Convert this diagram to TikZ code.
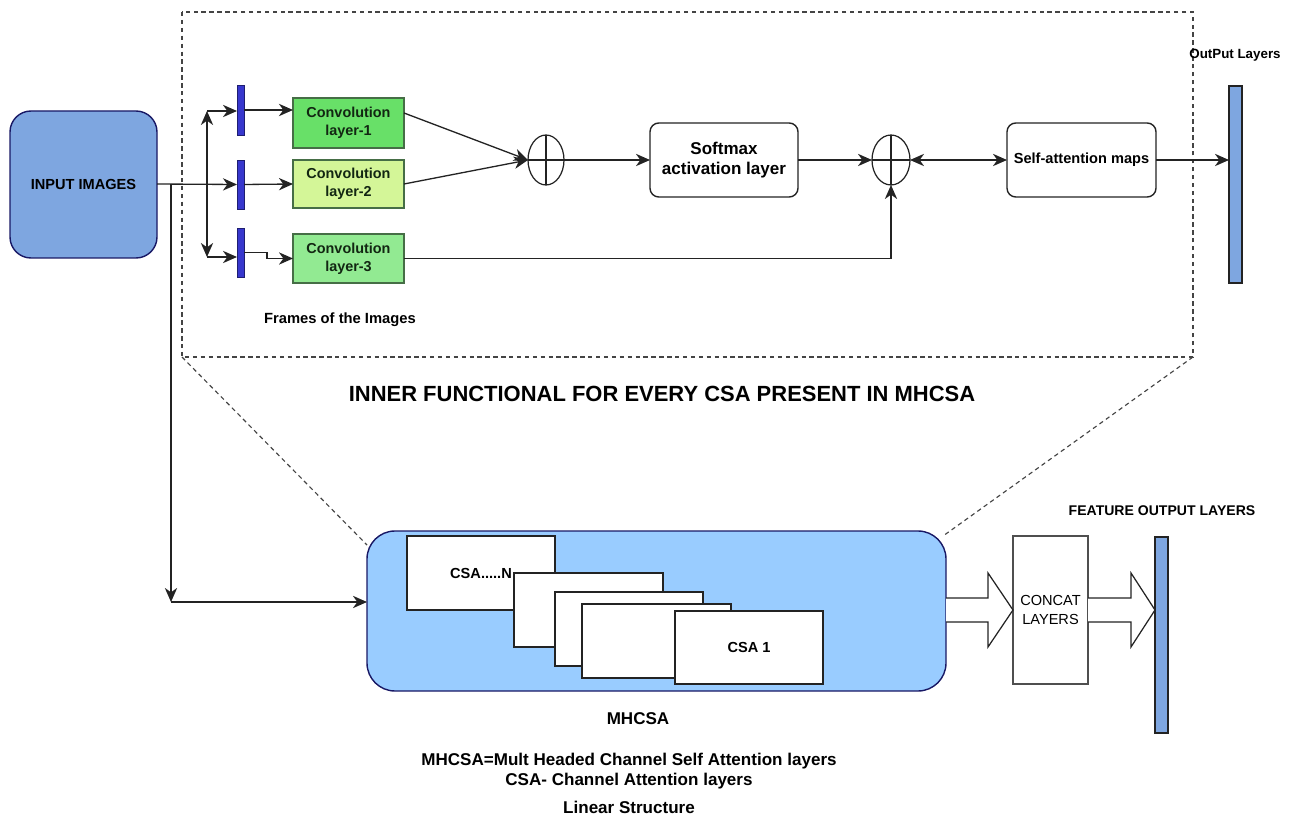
\documentclass[tikz,border=0pt]{standalone}
\usepackage{fontspec}
\setmainfont{Liberation Sans}
\usetikzlibrary{arrows.meta,shapes.geometric,calc}

\definecolor{inblue}{RGB}{126,166,224}
\definecolor{mhblue}{RGB}{153,204,255}
\definecolor{barblue}{RGB}{55,55,205}
\definecolor{convA}{RGB}{104,224,104}
\definecolor{convB}{RGB}{212,246,152}
\definecolor{convC}{RGB}{146,234,146}
\definecolor{convtext}{RGB}{18,38,18}
\definecolor{convedge}{RGB}{70,110,70}
\definecolor{edge}{RGB}{35,35,35}

% box given by its corners (x1,y1)-(x2,y2) in picture units
\newcommand{\cornerbox}[7]{%
  \node[#2, minimum width={(#5-#3)*0.02cm}, minimum height={(#6-#4)*0.02cm}]
    (#1) at ({(#3+#5)/2},{(#4+#6)/2}) {#7};}

\tikzset{
  base/.style={inner sep=0pt, outer sep=0pt},
  conv/.style={base, draw=convedge, line width=0.6pt, align=center,
    text=convtext, font=\bfseries\fontsize{8.2}{10.4}\selectfont},
  framebar/.style={base, fill=barblue, draw=barblue!55!black, line width=0.5pt},
  outbar/.style={base, fill=inblue, draw=edge, line width=0.6pt},
  roundbox/.style={base, draw=edge, line width=0.8pt, rounded corners=5pt,
    fill=white, align=center},
  csabox/.style={base, draw=edge, line width=0.8pt, fill=white},
  sumnode/.style={base, ellipse, draw=edge, line width=0.7pt,
    minimum width=0.72cm, minimum height=1cm},
  tip/.tip={Stealth[length=8pt,width=7pt,inset=2.5pt]},
  arr/.style={-tip, line width=0.75pt, draw=edge},
  dbl/.style={tip-tip, line width=0.75pt, draw=edge},
  zoomline/.style={draw=edge!85, line width=0.65pt, dash pattern=on 2.5pt off 2pt},
  blockarrow/.style={draw=edge, line width=0.7pt, fill=white, line join=miter},
  lbl/.style={base, font=\bfseries\fontsize{8.4}{10}\selectfont}
}

\begin{document}
\begin{tikzpicture}[x=0.02cm, y=-0.02cm]
\useasboundingbox (0,0) rectangle (1302,817);

% ---------- inner functional frame ----------
\draw[zoomline] (182,12) rectangle (1193,357);
\coordinate (fbl) at (182,357);
\coordinate (fbr) at (1193,357);

% input block
\cornerbox{in}{base, draw=edge!70!blue, line width=0.8pt, fill=inblue,
  rounded corners=0.42cm, font=\bfseries\fontsize{8.3}{10}\selectfont}
  {10}{111}{157}{258}{INPUT IMAGES}

% frame bars
\cornerbox{b1}{framebar}{237}{85}{244}{135}{}
\cornerbox{b2}{framebar}{237}{160}{244}{209}{}
\cornerbox{b3}{framebar}{237}{228}{244}{277}{}

% convolution layers
\cornerbox{c1}{conv, fill=convA}{293}{98}{404}{148}{Convolution\\layer-1}
\cornerbox{c2}{conv, fill=convB}{293}{160}{404}{208}{Convolution\\layer-2}
\cornerbox{c3}{conv, fill=convC}{293}{234}{404}{283}{Convolution\\layer-3}

\node[lbl] (frames) at (340,320) {Frames of the Images};

% summation nodes
\node[sumnode] (o1) at (546,160) {};
\draw[line width=0.7pt, draw=edge] (o1.north) -- (o1.south) (o1.west) -- (o1.east);
\node[sumnode, minimum width=0.76cm] (o2) at (891,160) {};
\draw[line width=0.7pt, draw=edge] (o2.north) -- (o2.south) (o2.west) -- (o2.east);

% softmax and attention maps
\cornerbox{sm}{roundbox, font=\bfseries\fontsize{9.7}{11.4}\selectfont}
  {650}{123}{798}{197}{Softmax\\activation layer}
\cornerbox{sa}{roundbox, font=\bfseries\fontsize{8.3}{10}\selectfont}
  {1007}{123}{1156}{197}{Self-attention maps}

% output layer bar
\cornerbox{ob}{outbar}{1229}{86}{1242}{283}{}
\node[base, font=\bfseries\fontsize{7.6}{9}\selectfont] (oblbl) at (1235,55) {OutPut Layers};

% ---------- connectors of the inner frame ----------
\coordinate (split) at (171,184);
\coordinate (br1) at (207,111);
\coordinate (br3) at (207,257);
\coordinate (down) at (171,602);

\draw[arr] (in.east |- split) -- (b2.west);
\draw[dbl] (br1) -- (br3);
\draw[arr] (br1) -- (br1 -| b1.west);
\draw[arr] (br3) -- (br3 -| b3.west);

\draw[arr, line width=1.1pt] (b1.east) -- (b1.east -| c1.west);
\draw[arr] (b2.east) -- (c2.west);
\draw[arr] (b3.east) -- ++(23,0) |- (c3.west);

\draw[arr] ([yshift=0.2cm]c1.east) -- (o1.west);
\draw[arr] (c2.east) -- (o1.west);
\draw[arr] (o1.east) -- (sm.west);
\draw[arr] (sm.east) -- (o2.west);
\draw[arr] (c3.east) -| (o2.south);
\draw[dbl] (o2.east) -- (sa.west);
\draw[arr] (sa.east) -- (sa.east -| ob.west);

\node[base, font=\bfseries\fontsize{12.5}{14}\selectfont] (title) at (662,394)
  {INNER FUNCTIONAL FOR EVERY CSA PRESENT IN MHCSA};

% ---------- multi headed channel self attention ----------
\cornerbox{mh}{base, draw=edge!70!blue, line width=0.8pt, fill=mhblue,
  rounded corners=0.56cm}{367}{531}{946}{691}{}

\cornerbox{csaN}{csabox}{407}{536}{555}{610}{}
\node[base, font=\bfseries\fontsize{8.3}{10}\selectfont] (csaNlbl) at (481,573) {CSA.....N};
\cornerbox{csa4}{csabox}{514}{573}{663}{647}{}
\cornerbox{csa3}{csabox}{555}{592}{703}{666}{}
\cornerbox{csa2}{csabox}{582}{604}{731}{678}{}
\cornerbox{csa1}{csabox, font=\bfseries\fontsize{8.3}{10}\selectfont}
  {675}{611}{823}{684}{CSA 1}

% zoom lines from the frame to the block
\draw[zoomline] (fbl) -- (367,545);
\draw[zoomline] (fbr) -- (943,536);

% input routed down to the block
\draw[arr] (split) -- (down);
\draw[arr, line width=0.9pt] (down) -- (down -| mh.west);

% concat and feature output
\cornerbox{cc}{base, draw=edge!80, line width=0.7pt, fill=white, align=center,
  font=\fontsize{8.3}{10.4}\selectfont}{1013}{536}{1088}{684}{CONCAT\\LAYERS}
\cornerbox{fb}{outbar}{1155}{537}{1168}{733}{}
\node[base, font=\bfseries\fontsize{8}{10}\selectfont] (fblbl) at (1162,511)
  {FEATURE OUTPUT LAYERS};

\draw[blockarrow] (mh.east |- 0,598) -- (988,598) -- (988,573) -- (cc.west)
  -- (988,647) -- (988,622) -- (mh.east |- 0,622);
\draw[blockarrow] (cc.east |- 0,598) -- (1131,598) -- (1131,573) -- (fb.west |- cc.west)
  -- (1131,647) -- (1131,622) -- (cc.east |- 0,622);

% captions
\node[base, font=\bfseries\fontsize{9.7}{11}\selectfont] (mhlbl) at (638,719) {MHCSA};
\node[base, font=\bfseries\fontsize{9.7}{11}\selectfont] (def1) at (629,761)
  {MHCSA=Mult Headed Channel Self Attention layers};
\node[base, font=\bfseries\fontsize{9.7}{11}\selectfont] (def2) at (629,781)
  {CSA- Channel Attention layers};
\node[base, font=\bfseries\fontsize{9.7}{11}\selectfont] (def3) at (629,807)
  {Linear Structure};
\end{tikzpicture}
\end{document}
